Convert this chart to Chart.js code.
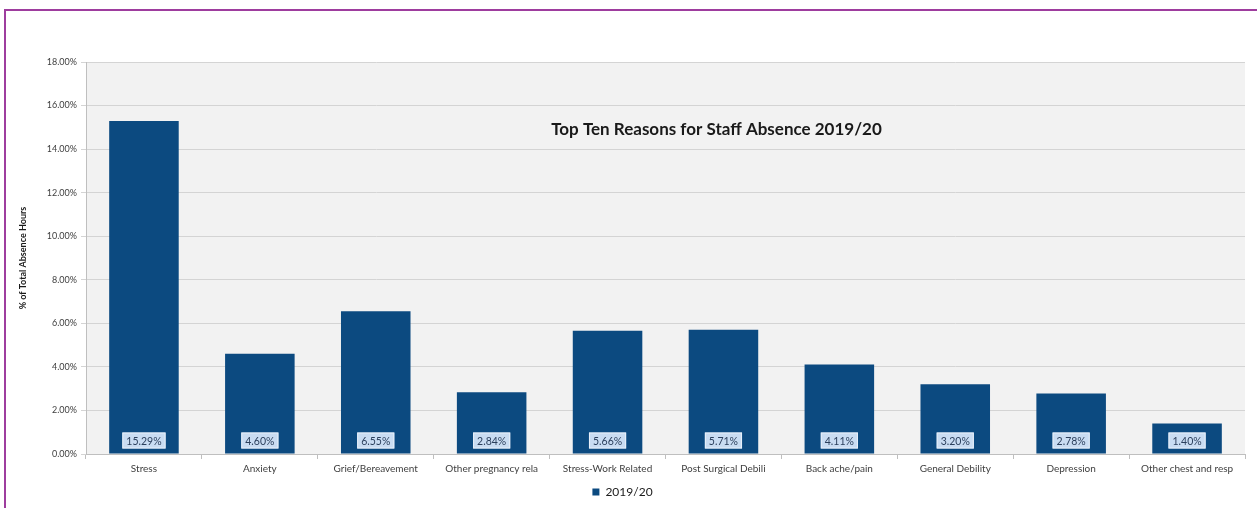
<!DOCTYPE html>
<html>
<head>
<meta charset="utf-8">
<script src="https://cdn.jsdelivr.net/npm/chart.js@4.4.0/dist/chart.umd.min.js"></script>
<style>
  html, body { margin: 0; padding: 0; background: #fff; }
  #frame {
    position: absolute; left: 4px; top: 9px; width: 1270px; height: 520px;
    border-left: 2px solid #9e3d9e; border-top: 2px solid #9e3d9e;
  }
  #wrap { position: absolute; left: 0; top: 0; width: 1257px; height: 508px; }
</style>
</head>
<body>
<div id="frame"></div>
<div id="wrap"><canvas id="absenceChart"></canvas></div>
<script>
// Data
const reasons = ['Stress', 'Anxiety', 'Grief/Bereavement', 'Other pregnancy rela', 'Stress-Work Related',
    'Post Surgical Debili', 'Back ache/pain', 'General Debility', 'Depression', 'Other chest and resp'];
const absence1920 = [15.29, 4.60, 6.55, 2.84, 5.66, 5.71, 4.11, 3.20, 2.78, 1.40];
const yTicks = [0, 2, 4, 6, 8, 10, 12, 14, 16, 18];
const chartTitle = 'Top Ten Reasons for Staff Absence 2019/20';

const FONT = 'Lato, "Open Sans", sans-serif';

// grey plot background
const plotBg = {
    id: 'plotBg',
    beforeDraw(chart) {
        const { ctx, chartArea: a } = chart;
        ctx.save();
        ctx.fillStyle = '#f2f2f2';
        ctx.fillRect(a.left, a.top, a.right - a.left, a.bottom - a.top);
        ctx.restore();
    }
};

// title drawn inside the plot area
const innerTitle = {
    id: 'innerTitle',
    afterDatasetsDraw(chart) {
        const { ctx, chartArea: a } = chart;
        ctx.save();
        ctx.font = 'bold 17px ' + FONT;
        ctx.fillStyle = '#1a1a1a';
        ctx.textAlign = 'center';
        ctx.textBaseline = 'middle';
        ctx.fillText(chartTitle, a.left + (a.right - a.left) * 0.544, a.top + 68);
        ctx.restore();
    }
};

// boxed value labels near the bottom of each bar
const valueBoxes = {
    id: 'valueBoxes',
    afterDatasetsDraw(chart) {
        const { ctx } = chart;
        const meta = chart.getDatasetMeta(0);
        ctx.save();
        ctx.font = '10.5px ' + FONT;
        ctx.textAlign = 'center';
        ctx.textBaseline = 'middle';
        meta.data.forEach((bar, i) => {
            const txt = absence1920[i].toFixed(2) + '%';
            const w = ctx.measureText(txt).width + 8;
            const h = 16;
            const cy = bar.base - 13;
            ctx.fillStyle = '#c9dcf2';
            ctx.fillRect(bar.x - w / 2, cy - h / 2, w, h);
            ctx.strokeStyle = '#e8f0fa';
            ctx.lineWidth = 1;
            ctx.strokeRect(bar.x - w / 2 + 0.5, cy - h / 2 + 0.5, w - 1, h - 1);
            ctx.fillStyle = '#2b3f5c';
            ctx.fillText(txt, bar.x, cy + 1);
        });
        ctx.restore();
    }
};

new Chart(document.getElementById('absenceChart'), {
    type: 'bar',
    data: {
        labels: reasons,
        datasets: [{
            label: '2019/20',
            data: absence1920,
            backgroundColor: '#0c4a80',
            borderWidth: 0,
            categoryPercentage: 1.0,
            barPercentage: 0.6
        }]
    },
    options: {
        responsive: true,
        maintainAspectRatio: false,
        animation: false,
        layout: { padding: { top: 62, right: 12, left: 0, bottom: 0 } },
        scales: {
            x: {
                offset: true,
                grid: {
                    offset: true,
                    drawOnChartArea: false,
                    drawTicks: true,
                    tickLength: 5,
                    color: '#bfbfbf'
                },
                border: { color: '#bfbfbf' },
                ticks: {
                    color: '#404040',
                    font: { family: FONT, size: 10 },
                    maxRotation: 0,
                    autoSkip: false,
                    padding: 4
                },
                afterFit(scale) { scale.height = 29; }
            },
            y: {
                min: 0,
                max: 18,
                afterBuildTicks(scale) {
                    scale.ticks = yTicks.map(v => ({ value: v }));
                },
                grid: { color: '#d4d4d4', tickLength: 5 },
                border: { color: '#bfbfbf' },
                ticks: {
                    color: '#404040',
                    font: { family: FONT, size: 9 },
                    padding: 4,
                    callback: v => v.toFixed(2) + '%'
                },
                title: {
                    display: true,
                    text: '% of Total Absence Hours',
                    color: '#1a1a1a',
                    font: { family: FONT, size: 9, weight: 'bold' },
                    padding: { top: 18, bottom: 6 }
                },
                afterFit(scale) { scale.width = 86; }
            }
        },
        plugins: {
            legend: {
                position: 'bottom',
                labels: {
                    color: '#1a1a1a',
                    font: { family: FONT, size: 12 },
                    boxWidth: 7,
                    boxHeight: 7,
                    padding: 3
                }
            },
            tooltip: { enabled: false }
        }
    },
    plugins: [plotBg, innerTitle, valueBoxes]
});
</script>
</body>
</html>
